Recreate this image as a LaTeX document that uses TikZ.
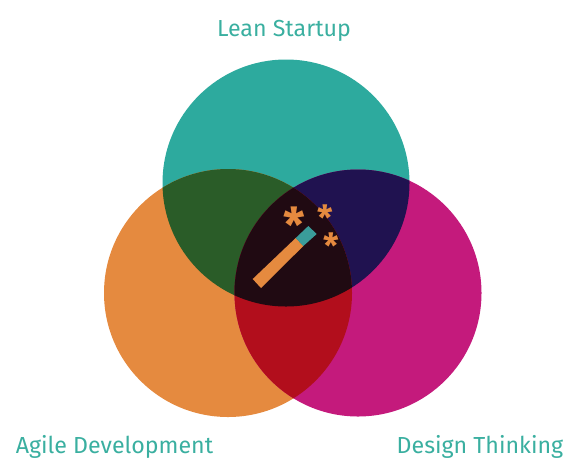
\documentclass[tikz,border=0pt]{standalone}
\usepackage{fontspec}
\setmainfont{Fira Sans}
\definecolor{cteal}{HTML}{2DAA9E}
\definecolor{corange}{HTML}{E58A3F}
\definecolor{cmag}{HTML}{C41A7C}
\definecolor{cgreen}{HTML}{2A5C28}
\definecolor{cnavy}{HTML}{201250}
\definecolor{cred}{HTML}{B20E1C}
\definecolor{cdark}{HTML}{200A12}
\definecolor{cwand}{HTML}{3A9C9A}
\definecolor{clabel}{HTML}{3AAFA0}
\tikzset{
  vlabel/.style={text=clabel,font=\fontsize{17.4}{20}\selectfont,inner sep=0pt,anchor=base},
  spark/.style={text=corange,inner sep=0pt,anchor=base},
}
\newcommand{\ctop}{(286,183) circle (123.5)}
\newcommand{\cleft}{(228,293) circle (124)}
\newcommand{\cright}{(358,293) circle (123.5)}
\begin{document}
\begin{tikzpicture}[x=0.75pt,y=-0.75pt]
\useasboundingbox (0,0) rectangle (566,458);
\fill[cteal] \ctop;
\fill[corange] \cleft;
\fill[cmag] \cright;
\begin{scope}\clip \ctop; \fill[cgreen] \cleft; \fill[cnavy] \cright; \end{scope}
\begin{scope}\clip \cleft; \fill[cred] \cright; \end{scope}
\begin{scope}\clip \ctop; \clip \cleft; \fill[cdark] \cright; \end{scope}
\fill[corange] (252.7,279) -- (261,288) -- (303.3,246) -- (295.7,238) -- cycle;
\fill[cwand] (295.7,238) -- (303.3,246) -- (316.7,234) -- (308.3,226) -- cycle;
\node[spark,font=\bfseries\fontsize{36}{36}\selectfont] (s1) at (294.3,242) {*};
\node[spark,font=\bfseries\fontsize{26}{26}\selectfont] (s2) at (325.3,230) {*};
\node[spark,font=\bfseries\fontsize{26}{26}\selectfont] (s3) at (331.7,258) {*};
\node[vlabel] (lean) at (284,36) {Lean Startup};
\node[vlabel] (agile) at (114.5,453) {Agile Development};
\node[vlabel] (design) at (480,453) {Design Thinking};
\end{tikzpicture}
\end{document}
